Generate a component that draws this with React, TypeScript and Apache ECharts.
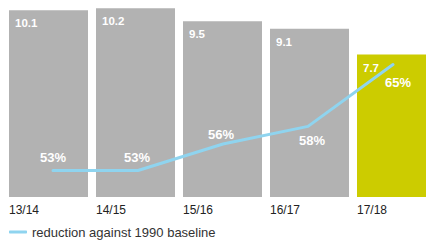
import React, { useEffect, useRef } from "react";
import * as echarts from "echarts";

const categories = ["13/14", "14/15", "15/16", "16/17", "17/18"];
const emissions = [10.1, 10.2, 9.5, 9.1, 7.7];
const reduction = [53, 53, 56, 58, 65];
const seriesName = "reduction against 1990 baseline";

const pctLabelOffsets = [
  [0, -13],
  [-1, -13],
  [-2, -10],
  [4, 14],
  [5, 18],
];

const GRAY = "#b2b2b2";
const GREEN = "#cccc00";
const BLUE = "#8fd4ef";
const FONT = "Liberation Sans, Arial, Helvetica, sans-serif";

export default function App() {
  const ref = useRef<HTMLDivElement>(null);
  useEffect(() => {
    if (!ref.current) return;
    const chart = echarts.init(ref.current, undefined, { renderer: "svg" });
    const top = 2.75;
    const height = 194.25;
    chart.setOption({
      animation: false,
      textStyle: { fontFamily: FONT },
      grid: [
        { left: 5, width: 435, top, height, outerBoundsMode: "none", containLabel: false },
        { left: 53, width: 340, top, height, outerBoundsMode: "none" },
        { left: 9, width: 348, top, height, outerBoundsMode: "none" },
      ],
      xAxis: [
        { type: "category", gridIndex: 0, data: categories, show: false },
        { type: "category", gridIndex: 1, data: categories, boundaryGap: false, show: false },
        {
          type: "category",
          gridIndex: 2,
          data: categories,
          boundaryGap: false,
          axisLine: { show: false },
          axisTick: { show: false },
          axisLabel: {
            align: "left",
            margin: 7,
            color: "#222",
            fontSize: 12,
            fontFamily: FONT,
          },
        },
      ],
      yAxis: [
        { type: "value", gridIndex: 0, min: 0, max: 10.5, show: false },
        { type: "value", gridIndex: 1, min: 50, max: 72, show: false },
        { type: "value", gridIndex: 2, min: 0, max: 1, show: false },
      ],
      legend: {
        left: 9,
        top: 225.5,
        padding: 0,
        itemWidth: 18,
        itemHeight: 3,
        itemGap: 10,
        textStyle: { color: "#333", fontSize: 13, fontFamily: FONT },
        data: [
          {
            name: seriesName,
            icon: "roundRect",
            itemStyle: { color: BLUE, opacity: 1 },
          },
        ],
      },
      series: [
        {
          type: "bar",
          xAxisIndex: 0,
          yAxisIndex: 0,
          barWidth: 79,
          z: 2,
          data: emissions.map((v, i) => ({
            value: v,
            itemStyle: { color: i === emissions.length - 1 ? GREEN : GRAY },
          })),
          label: {
            show: true,
            position: [6, 7],
            align: "left",
            verticalAlign: "top",
            color: "#fff",
            fontWeight: "bold",
            fontSize: 11.5,
            fontFamily: FONT,
          },
        },
        {
          type: "line",
          name: seriesName,
          xAxisIndex: 1,
          yAxisIndex: 1,
          z: 5,
          symbol: "circle",
          symbolSize: 1,
          itemStyle: { color: BLUE },
          lineStyle: { color: BLUE, width: 3, cap: "round", join: "round" },
          data: reduction.map((v, i) => ({
            value: v,
            label: {
              show: true,
              position: "inside",
              offset: pctLabelOffsets[i],
              formatter: "{c}%",
              color: "#fff",
              fontWeight: "bold",
              fontSize: 13,
              fontFamily: FONT,
            },
          })),
        },
      ],
    });
    return () => chart.dispose();
  }, []);
  return (
    <div
      ref={ref}
      style={{ position: "absolute", left: 0, top: 0, width: 426, height: 241 }}
    />
  );
}
